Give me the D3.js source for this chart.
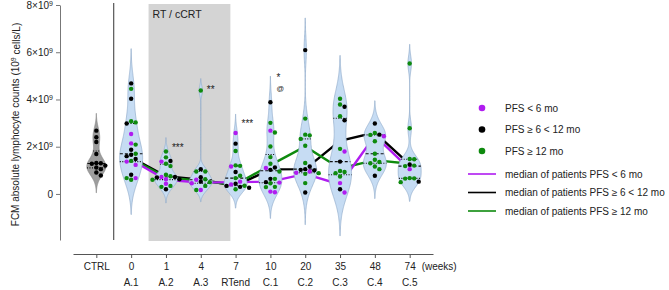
<!DOCTYPE html>
<html>
<head>
<meta charset="utf-8">
<script src="https://cdn.jsdelivr.net/npm/d3@7"></script>
<style>
  body { margin: 0; background: #fff; }
  svg text { font-family: "Liberation Sans", Arial, sans-serif; fill: #222; }
</style>
</head>
<body>
<div id="chart"></div>
<script>
// time points (x axis) and phase labels under them
const weeks = ["CTRL", "0", "1", "4", "7", "10", "20", "35", "48", "74"];
const phases = ["", "A.1", "A.2", "A.3", "RTend", "C.1", "C.2", "C.3", "C.4", "C.5"];

// values in 10^9 cells/L
const ctrlValues = [2.68, 2.4, 2.2, 1.69, 1.31, 1.3, 1.28, 1.2, 1.12, 1.05, 0.91, 0.78];

// one list per time point A.1 .. C.5
const purpleValues = [
  [2.54, 2.14, 1.37, 1.23, 0.67],
  [1.37, 0.72, 0.62, 0.43],
  [0.6, 0.45, 0.17],
  [2.58, 1.16, 0.52, 0.4],
  [2.68, 1.1, 0.48, 0.1, 0.07],
  [0.95, 0.9],
  [1.8, 0.46, 0.06],
  [2.44],
  [1.05]
];
const blackValues = [
  [4.68, 4.03, 2.98, 1.87, 1.66, 1.6, 1.48, 0.81],
  [1.4, 0.72, 0.7, 0.62, 0.2],
  [1.05, 0.71, 0.52],
  [2.13, 0.93, 0.43, 0.34, 0.26, 0.3],
  [3.88, 1.12, 1.02, 0.64, 0.5],
  [6.09, 1.16, 1.05, 1.02, 1.0, 0.06],
  [3.69, 3.12, 1.37, 0.2],
  [2.98, 2.51, 0.77],
  [1.25, 0.52]
];
const greenValues = [
  [4.45, 3.08, 3.03, 2.09, 1.7, 1.4, 0.67, 0.6],
  [1.8, 1.55, 1.28, 1.18, 0.81, 0.75, 0.6, 0.34, 0.3],
  [4.38, 0.95, 0.95, 0.62, 0.5, 0.34, 0.17],
  [1.82, 1.21, 1.19, 0.77, 0.67, 0.35, 0.2],
  [3.01, 2.6, 2.01, 1.56, 1.28, 0.95, 0.64, 0.45, 0.29, 0.3],
  [3.19, 2.51, 2.48, 2.33, 2.04, 1.31, 0.88, 0.85, 0.46],
  [4.03, 3.79, 3.29, 1.91, 0.97, 0.93, 0.88, 0.74],
  [2.58, 2.5, 2.23, 1.7, 1.45, 1.35, 1.3, 1.16, 1.05],
  [5.52, 2.78, 1.48, 1.47, 1.2, 1.18, 0.67, 0.66, 0.65, 0.5]
];

// median lines per PFS group, A.1 .. C.5
const medianPurple = [1.45, 0.6, 0.48, 0.5, 0.52, 0.85, 0.4, 2.47, 1.05];
const medianBlack  = [1.55, 0.75, 0.6, 0.35, 1.04, 1.05, 2.25, 2.6, 1.25];
const medianGreen  = [1.5, 0.7, 0.55, 0.4, 1.22, 2.01, 1.08, 1.43, 1.28];

// significance marks
const annotTexts  = ["***", "**", "***", "*", "@"];
const annotWeeks  = ["1", "4", "7", "10", "10"];
const annotValues = [1.83, 4.29, 2.85, 4.8, 4.36];

const yTicks = [0, 2, 4, 6, 8];

const groupNames = ["PFS < 6 mo", "PFS ≥ 6 < 12 mo", "PFS ≥ 12 mo"];
const colors = ["#b01cf0", "#000000", "#0e8a0e"];

const width = 669, height = 290;

const svg = d3.select("#chart").append("svg")
  .attr("width", width)
  .attr("height", height);

const x = d3.scalePoint().domain(weeks).range([73, 433]).padding(0.67);
const y = d3.scaleLinear().domain([-1.95, 8]).range([240, 5]);

// RT / cCRT shaded phase
const shadeX0 = (x("0") + x("1")) / 2;
const shadeX1 = x("7") - x.step() * 0.15;
svg.append("rect")
  .attr("x", shadeX0)
  .attr("y", y.range()[1] - 1)
  .attr("width", shadeX1 - shadeX0)
  .attr("height", y.range()[0] - y.range()[1] + 2)
  .attr("fill", "#d4d4d4");

svg.append("text")
  .attr("x", shadeX0 + 4)
  .attr("y", 18)
  .attr("font-size", 10.5)
  .text("RT / cCRT");

// separator between controls and patients
const sepX = (x("CTRL") + x("0")) / 2;
svg.append("line")
  .attr("x1", sepX).attr("x2", sepX)
  .attr("y1", y.range()[1] - 2).attr("y2", y.range()[0])
  .attr("stroke", "#333").attr("stroke-width", 1);

// median lines of each PFS group (drawn under the violins)
const lineGen = d3.line()
  .x((d, i) => x(weeks[i + 1]))
  .y(d => y(d));

[medianBlack, medianGreen, medianPurple].forEach((series, k) => {
  const col = [colors[1], colors[2], colors[0]][k];
  svg.append("path")
    .datum(series)
    .attr("d", lineGen)
    .attr("fill", "none")
    .attr("stroke", col)
    .attr("stroke-width", 2.4);
});

// violins
function kdeOf(vals) {
  const sorted = vals.slice().sort(d3.ascending);
  const n = vals.length;
  const sd = d3.deviation(vals);
  const iqr = d3.quantile(sorted, 0.75) - d3.quantile(sorted, 0.25);
  const h = 0.9 * Math.min(sd, iqr / 1.34) * Math.pow(n, -0.2);
  const dens = v => d3.sum(vals, d => Math.exp(-0.5 * ((v - d) / h) ** 2));
  const lo = d3.min(vals) - 2.5 * h, hi = d3.max(vals) + 2.5 * h;
  const pts = d3.range(0, 161).map(k => {
    const v = lo + (hi - lo) * k / 160;
    return [v, dens(v)];
  });
  const maxD = d3.max(pts, p => p[1]);
  return { pts, dens, maxD, sorted };
}

const groups = [{ week: "CTRL", vals: ctrlValues, cats: ctrlValues.map(() => 1), fill: "#9d9d9d", stroke: "#8a8a8a", half: 9.5 }];
for (let i = 0; i < 9; i++) {
  const vals = [], cats = [];
  [purpleValues[i], blackValues[i], greenValues[i]].forEach((arr, c) => {
    arr.forEach(v => { vals.push(v); cats.push(c); });
  });
  groups.push({ week: weeks[i + 1], vals, cats, fill: "#c6dcf3", stroke: "#94aecc", half: 11.5 });
}

const violinLayer = svg.append("g");
const pointLayer = svg.append("g");

groups.forEach(g => {
  const cx = x(g.week);
  const k = kdeOf(g.vals);
  const w = d => d / k.maxD * g.half;

  const area = d3.area()
    .x0(p => cx - w(p[1]))
    .x1(p => cx + w(p[1]))
    .y(p => y(p[0]))
    .curve(d3.curveBasis);

  violinLayer.append("path")
    .datum(k.pts)
    .attr("d", area)
    .attr("fill", g.fill)
    .attr("stroke", g.stroke)
    .attr("stroke-width", 0.7);

  // median (dashed) and quartiles (dotted)
  [[0.5, "3,2"], [0.25, "1,1.5"], [0.75, "1,1.5"]].forEach(([q, dash]) => {
    const v = d3.quantile(k.sorted, q);
    const hw = w(k.dens(v));
    violinLayer.append("line")
      .attr("x1", cx - hw).attr("x2", cx + hw)
      .attr("y1", y(v)).attr("y2", y(v))
      .attr("stroke", "#111")
      .attr("stroke-width", 1.1)
      .attr("stroke-dasharray", dash);
  });

  // simple beeswarm placement
  const r = 2.2, minDist = 4.4;
  const order = d3.range(g.vals.length).sort((a, b) => g.vals[b] - g.vals[a]);
  const placed = [];
  const offsets = [0, 4.5, -4.5, 9, -9, 13.5, -13.5];
  order.forEach(idx => {
    const py = y(g.vals[idx]);
    let px = cx;
    for (const o of offsets) {
      const tx = cx + o;
      if (placed.every(p => Math.hypot(p.x - tx, p.y - py) >= minDist)) { px = tx; break; }
    }
    placed.push({ x: px, y: py, c: g.cats[idx] });
  });

  pointLayer.selectAll(null)
    .data(placed)
    .enter()
    .append("circle")
    .attr("cx", d => d.x)
    .attr("cy", d => d.y)
    .attr("r", r)
    .attr("fill", d => colors[d.c]);
});

// significance marks
svg.selectAll(".annot")
  .data(annotTexts)
  .enter()
  .append("text")
  .attr("class", "annot")
  .attr("x", (d, i) => x(annotWeeks[i]) + 6)
  .attr("y", (d, i) => y(annotValues[i]))
  .attr("font-size", d => d === "@" ? 7.5 : 10)
  .text(d => d);

// y axis
const yAxis = svg.append("g")
  .attr("transform", "translate(60,0)")
  .call(d3.axisLeft(y).tickValues(yTicks).tickSize(4).tickSizeOuter(0));

yAxis.selectAll("text")
  .attr("font-size", 10)
  .attr("fill", "#222")
  .each(function(d) {
    const t = d3.select(this).text("");
    if (d === 0) { t.text("0"); return; }
    t.append("tspan").text(d + "×10");
    t.append("tspan").attr("dy", "-0.45em").attr("font-size", 7).text("9");
  });

yAxis.select(".domain").attr("stroke", "#777");
yAxis.selectAll(".tick line").attr("stroke", "#777");

svg.append("text")
  .attr("transform", `translate(19,${(y.range()[0] + y.range()[1]) / 2 + 2}) rotate(-90)`)
  .attr("text-anchor", "middle")
  .attr("font-size", 10)
  .call(t => {
    t.append("tspan").text("FCM absolute lymphocyte counts (10");
    t.append("tspan").attr("dy", "-0.45em").attr("font-size", 7).text("9");
    t.append("tspan").attr("dy", "0.45em").text(" cells/L)");
  });

// x axis
const xAxis = svg.append("g")
  .attr("transform", "translate(0,254)")
  .call(d3.axisBottom(x).tickSize(4).tickSizeOuter(0));

xAxis.selectAll("text").attr("font-size", 10).attr("fill", "#222").attr("y", 9);
xAxis.select(".domain").attr("stroke", "#555");
xAxis.selectAll(".tick line").attr("stroke", "#555");

svg.append("text")
  .attr("x", x("74") + 12)
  .attr("y", 270)
  .attr("font-size", 10)
  .text("(weeks)");

svg.selectAll(".phase")
  .data(phases.slice(1))
  .enter()
  .append("text")
  .attr("class", "phase")
  .attr("x", (d, i) => x(weeks[i + 1]))
  .attr("y", 286)
  .attr("text-anchor", "middle")
  .attr("font-size", 10)
  .text(d => d);

// legend
const legend = svg.append("g");
groupNames.forEach((name, i) => {
  const ly = 108 + i * 21.5;
  legend.append("circle").attr("cx", 482).attr("cy", ly).attr("r", 3.3).attr("fill", colors[i]);
  legend.append("text").attr("x", 505).attr("y", ly + 3.5).attr("font-size", 10).text(name);
});
groupNames.forEach((name, i) => {
  const ly = 174 + i * 18.5;
  legend.append("line").attr("x1", 468).attr("x2", 496).attr("y1", ly).attr("y2", ly)
    .attr("stroke", colors[i]).attr("stroke-width", 1.6);
  legend.append("text").attr("x", 505).attr("y", ly + 3.5).attr("font-size", 10)
    .text("median of patients " + name);
});
</script>
</body>
</html>
